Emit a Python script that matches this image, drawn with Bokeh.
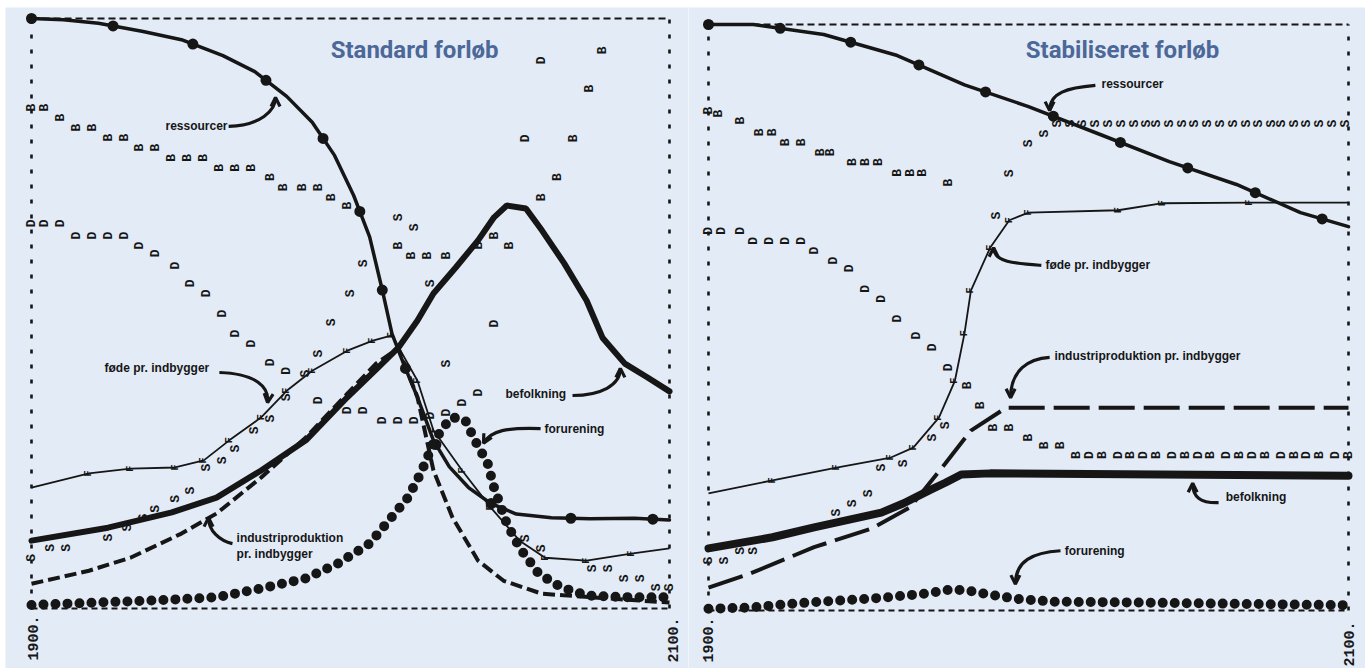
import math
from bokeh.plotting import figure
from bokeh.layouts import row
from bokeh.models import Range1d, Label, Arrow, OpenHead
from bokeh.core.properties import value
from bokeh.embed import file_html
from bokeh.resources import INLINE

# ---------------- data (years / normalised level 0..1) ----------------
YEAR_START, YEAR_END = 1900, 2100
TICK_LABELS = ["1900.", "2100."]

# Standard run (left)
L_RES_YEAR = [1900, 1910, 1921, 1935, 1947, 1960, 1970, 1980, 1988, 1995, 2001, 2006, 2010, 2013, 2017, 2021, 2026, 2031, 2037, 2044, 2052, 2063, 2075, 2089, 2100]
L_RES_VAL = [1.000, 0.998, 0.992, 0.978, 0.964, 0.937, 0.910, 0.868, 0.824, 0.768, 0.700, 0.630, 0.539, 0.466, 0.410, 0.358, 0.285, 0.240, 0.205, 0.178, 0.160, 0.154, 0.152, 0.153, 0.150]

L_POP_YEAR = [1900, 1924, 1944, 1958, 1972, 1986, 1999, 2008, 2015, 2021, 2026, 2033, 2040, 2045, 2049, 2055, 2060, 2067, 2074, 2079, 2086, 2093, 2100]
L_POP_VAL = [0.115, 0.137, 0.163, 0.188, 0.234, 0.285, 0.358, 0.405, 0.442, 0.488, 0.534, 0.578, 0.624, 0.663, 0.683, 0.678, 0.641, 0.585, 0.522, 0.459, 0.415, 0.392, 0.368]

L_FOOD_YEAR = [1900, 1918, 1931, 1945, 1954, 1962, 1972, 1980, 1988, 1999, 2007, 2013, 2021, 2026, 2035, 2044, 2053, 2061, 2074, 2088, 2100]
L_FOOD_VAL = [0.205, 0.229, 0.237, 0.239, 0.251, 0.285, 0.324, 0.369, 0.403, 0.437, 0.454, 0.463, 0.386, 0.302, 0.234, 0.171, 0.115, 0.086, 0.081, 0.093, 0.102]

L_IND_YEAR = [1900, 1918, 1931, 1947, 1958, 1972, 1986, 1999, 2008, 2015, 2021, 2026, 2032, 2040, 2048, 2060, 2081, 2100]
L_IND_VAL = [0.042, 0.064, 0.086, 0.127, 0.161, 0.222, 0.290, 0.364, 0.415, 0.441, 0.358, 0.234, 0.154, 0.081, 0.047, 0.025, 0.017, 0.010]

L_POL_YEAR = [1900, 1920, 1940, 1958, 1972, 1986, 1996, 2006, 2012, 2018, 2022, 2026, 2029, 2032, 2036, 2039, 2043, 2045, 2049, 2053, 2059, 2066, 2074, 2088, 2100]
L_POL_VAL = [0.006, 0.010, 0.014, 0.019, 0.034, 0.051, 0.076, 0.110, 0.149, 0.188, 0.229, 0.280, 0.307, 0.324, 0.319, 0.285, 0.246, 0.205, 0.144, 0.103, 0.059, 0.036, 0.022, 0.019, 0.019]

L_B_YEAR = [1900, 1904, 1909, 1914, 1919, 1924, 1929, 1934, 1939, 1944, 1949, 1954, 1959, 1964, 1969, 1975, 1979, 1985, 1990, 1994, 1999, 2015, 2019, 2024, 2030, 2040, 2045, 2050, 2060, 2065, 2070, 2075, 2079]
L_B_VAL = [0.849, 0.849, 0.832, 0.815, 0.815, 0.798, 0.798, 0.781, 0.781, 0.764, 0.764, 0.764, 0.747, 0.747, 0.747, 0.731, 0.714, 0.714, 0.714, 0.697, 0.683, 0.615, 0.598, 0.598, 0.598, 0.615, 0.632, 0.615, 0.697, 0.731, 0.797, 0.881, 0.946]

L_D_YEAR = [1900, 1904, 1909, 1914, 1919, 1924, 1929, 1934, 1939, 1945, 1950, 1955, 1960, 1964, 1969, 1975, 1980, 1990, 1999, 2004, 2010, 2015, 2020, 2025, 2030, 2035, 2040, 2045, 2055, 2060]
L_D_VAL = [0.653, 0.653, 0.653, 0.632, 0.632, 0.632, 0.632, 0.615, 0.602, 0.581, 0.551, 0.534, 0.500, 0.466, 0.449, 0.417, 0.403, 0.353, 0.336, 0.336, 0.319, 0.319, 0.319, 0.327, 0.332, 0.349, 0.366, 0.483, 0.797, 0.929]

L_S_YEAR = [1900, 1906, 1911, 1924, 1930, 1935, 1939, 1945, 1950, 1955, 1960, 1964, 1970, 1975, 1980, 1986, 1990, 1994, 2000, 2004, 2015, 2020, 2025, 2030, 2055, 2060, 2076, 2081, 2086, 2091, 2096, 2100]
L_S_VAL = [0.086, 0.103, 0.103, 0.120, 0.137, 0.154, 0.169, 0.186, 0.200, 0.239, 0.251, 0.271, 0.302, 0.322, 0.358, 0.398, 0.432, 0.485, 0.534, 0.585, 0.663, 0.646, 0.551, 0.415, 0.119, 0.102, 0.068, 0.068, 0.051, 0.051, 0.036, 0.036]

# Stabilised run (right)
R_RES_YEAR = [1900, 1914, 1936, 1959, 1980, 2000, 2023, 2044, 2065, 2085, 2100]
R_RES_VAL = [1.000, 1.000, 0.983, 0.947, 0.897, 0.860, 0.811, 0.766, 0.727, 0.679, 0.655]

R_FOOD_YEAR = [1900, 1920, 1940, 1957, 1964, 1972, 1977, 1980, 1982, 1988, 1994, 2000, 2028, 2042, 2069, 2100]
R_FOOD_VAL = [0.200, 0.222, 0.244, 0.261, 0.278, 0.329, 0.392, 0.473, 0.546, 0.619, 0.666, 0.679, 0.683, 0.695, 0.696, 0.696]

R_POP_YEAR = [1900, 1920, 1933, 1954, 1961, 1969, 1974, 1979, 1988, 2100]
R_POP_VAL = [0.106, 0.125, 0.142, 0.167, 0.183, 0.205, 0.218, 0.232, 0.234, 0.230]

R_IND_YEAR = [1900, 1913, 1933, 1951, 1963, 1974, 1982, 1993, 2100]
R_IND_VAL = [0.039, 0.063, 0.108, 0.140, 0.176, 0.251, 0.307, 0.346, 0.346]

R_POL_YEAR = [1900, 1913, 1927, 1941, 1955, 1968, 1976, 1981, 1988, 1996, 2008, 2028, 2100]
R_POL_VAL = [0.003, 0.005, 0.012, 0.017, 0.022, 0.029, 0.036, 0.034, 0.027, 0.020, 0.015, 0.014, 0.009]

R_B_YEAR = [1900, 1903, 1910, 1916, 1920, 1924, 1929, 1935, 1938, 1945, 1949, 1953, 1959, 1963, 1967, 1975, 1981, 1985, 1989, 1994, 2000, 2005, 2010, 2015, 2023, 2032, 2040, 2049, 2057, 2066, 2074, 2083, 2091, 2100]
R_B_VAL = [0.853, 0.848, 0.836, 0.816, 0.816, 0.799, 0.799, 0.782, 0.782, 0.765, 0.765, 0.765, 0.747, 0.747, 0.747, 0.730, 0.384, 0.350, 0.312, 0.312, 0.295, 0.282, 0.282, 0.265, 0.265, 0.265, 0.265, 0.265, 0.265, 0.265, 0.265, 0.265, 0.265, 0.265]

R_D_YEAR = [1900, 1904, 1910, 1914, 1919, 1924, 1929, 1933, 1939, 1944, 1949, 1954, 1959, 1965, 1970, 1975, 2019, 2028, 2036, 2045, 2053, 2062, 2070, 2079, 2087, 2096]
R_D_VAL = [0.648, 0.648, 0.648, 0.631, 0.631, 0.631, 0.631, 0.614, 0.597, 0.584, 0.549, 0.532, 0.498, 0.469, 0.449, 0.415, 0.265, 0.265, 0.265, 0.265, 0.265, 0.265, 0.265, 0.265, 0.265, 0.265]

R_S_YEAR = [1900, 1905, 1910, 1914, 1940, 1945, 1950, 1954, 1961, 1970, 1974, 1990, 1994, 2000, 2005, 2009, 2013, 2017, 2021, 2025, 2029, 2033, 2037, 2040, 2044, 2048, 2052, 2056, 2060, 2064, 2068, 2072, 2076, 2079, 2083, 2087, 2091, 2095, 2099]
R_S_VAL = [0.085, 0.085, 0.102, 0.102, 0.167, 0.183, 0.200, 0.244, 0.251, 0.295, 0.316, 0.674, 0.746, 0.797, 0.814, 0.831, 0.831, 0.831, 0.831, 0.831, 0.831, 0.831, 0.831, 0.831, 0.831, 0.831, 0.831, 0.831, 0.831, 0.831, 0.831, 0.831, 0.831, 0.831, 0.831, 0.831, 0.831, 0.831, 0.831]

# annotations: text lines, label anchor, arrow (start, ctrl0, ctrl1, end)
L_NOTES = [
    (["ressourcer"], (1942.0, 0.817), (1961.8, 0.817), (1971.8, 0.819), (1976.5, 0.844), (1976.5, 0.866)),
    (["føde pr. indbygger"], (1922.9, 0.407), (1958.9, 0.400), (1970.5, 0.398), (1974.6, 0.375), (1974.0, 0.349)),
    (["industriproduktion", "pr. indbygger"], (1964.3, 0.120), (1963.0, 0.110), (1958.9, 0.115), (1955.5, 0.132), (1955.5, 0.154)),
    (["befolkning"], (2048.6, 0.364), (2069.6, 0.361), (2078.4, 0.361), (2084.6, 0.378), (2084.6, 0.407)),
    (["forurening"], (2060.8, 0.305), (2059.6, 0.305), (2049.2, 0.307), (2043.9, 0.302), (2041.7, 0.280)),
]
R_NOTES = [
    (["ressourcer"], (2022.8, 0.899), (2020.9, 0.896), (2012.2, 0.892), (2006.6, 0.884), (2006.6, 0.853)),
    (["føde pr. indbygger"], (2005.3, 0.589), (2004.0, 0.589), (1995.9, 0.592), (1989.1, 0.594), (1989.1, 0.619)),
    (["industriproduktion  pr. indbygger"], (2008.1, 0.435), (2006.6, 0.432), (2000.0, 0.430), (1994.4, 0.410), (1994.4, 0.363)),
    (["befolkning"], (2061.6, 0.193), (2059.4, 0.184), (2053.8, 0.183), (2051.3, 0.193), (2051.3, 0.217)),
    (["forurening"], (2011.3, 0.102), (2010.0, 0.102), (2001.3, 0.099), (1995.9, 0.085), (1995.9, 0.045)),
]

BG = "#e3ebf6"
INK = "#161616"
TITLE_C = "#4c6898"
SANS = "Liberation Sans"
TITLE_FONT = "Roboto"
MONO = "Liberation Mono"
H = 668


def panel(width, border_left, xr, yr, title, title_xy, d, notes, tick_off):
    p = figure(width=width, height=H, x_range=Range1d(*xr), y_range=Range1d(*yr),
               output_backend="svg", toolbar_location=None,
               min_border_left=border_left, min_border_right=0,
               min_border_top=7, min_border_bottom=0,
               x_axis_location=None, y_axis_location=None)
    p.grid.visible = False
    p.background_fill_color = BG
    p.border_fill_color = "white"
    p.outline_line_color = None

    # dashed frame
    p.line([YEAR_START, YEAR_END], [1, 1], line_color=INK, line_width=2.2, line_dash="7 4")
    p.line([YEAR_START, YEAR_END], [0, 0], line_color=INK, line_width=1.8, line_dash="6 4")
    for xe in (YEAR_START, YEAR_END):
        p.line([xe, xe], [0, 1], line_color=INK, line_width=2.6, line_dash="4 11")

    # letter series (rotated, typewriter style)
    letter_kw = dict(angle=math.pi / 2, text_font=value(MONO), text_font_style="bold",
                     text_font_size="13px", text_align="center", text_baseline="middle",
                     text_color=INK)
    for key, ch in (("B", "B"), ("D", "D"), ("S", "S")):
        xs, ys = d[key]
        p.text(x=xs, y=ys, text=[ch] * len(xs), **letter_kw)

    # curves
    fx, fy = d["food"]
    p.line(fx, fy, line_color=INK, line_width=1.8)
    p.text(x=fx[1:-1], y=fy[1:-1], text=["F"] * (len(fx) - 2), angle=math.pi / 2,
           text_font=value(MONO), text_font_style="bold", text_font_size="10px",
           text_align="center", text_baseline="middle", text_color=INK)
    ix, iy = d["ind"]
    p.line(ix, iy, line_color=INK, line_width=4, line_dash=d["ind_dash"])
    px_, py_ = d["pop"]
    p.line(px_, py_, line_color=INK, line_width=d["pop_w"], line_cap="round")
    rx, ry = d["res"]
    p.line(rx, ry, line_color=INK, line_width=3.5, line_cap="round")
    p.line(rx, ry, line_color=INK, line_width=11, line_dash=d["res_dash"], line_cap="round")
    ox, oy = d["pol"]
    p.line(ox, oy, line_color=INK, line_width=10, line_dash="0 12", line_cap="round")

    # year labels
    p.text(x=[YEAR_START, YEAR_END], y=[0, 0], text=TICK_LABELS, angle=math.pi / 2,
           x_offset=tick_off[0], y_offset=tick_off[1],
           text_font=value(MONO), text_font_style="bold", text_font_size="15px",
           text_align="right", text_baseline="middle", text_color=INK)

    # title
    p.add_layout(Label(x=title_xy[0], y=title_xy[1], text=title, text_align="center",
                       text_baseline="middle", text_font=TITLE_FONT, text_font_style="bold",
                       text_font_size="24px", text_color=TITLE_C))

    # annotations with curved arrows
    for lines, (lx, ly), s, c0, c1, e in notes:
        for k, t in enumerate(lines):
            p.add_layout(Label(x=lx, y=ly, y_offset=-16 * k, text=t, text_align="left",
                               text_baseline="middle", text_font=SANS,
                               text_font_style="bold", text_font_size="12px",
                               text_color=INK))
        p.bezier(x0=[s[0]], y0=[s[1]], x1=[e[0]], y1=[e[1]], cx0=[c0[0]], cy0=[c0[1]],
                 cx1=[c1[0]], cy1=[c1[1]], line_color=INK, line_width=3.2)
        p.add_layout(Arrow(end=OpenHead(size=9, line_width=3.2, line_color=INK),
                           x_start=c1[0], y_start=c1[1], x_end=e[0], y_end=e[1],
                           line_alpha=0))
    return p


left = panel(688, 5, (1891.85, 2105.96), (-0.10169, 1.01864), "Standard forløb", (2020.1, 0.947),
             dict(res=(L_RES_YEAR, L_RES_VAL), pop=(L_POP_YEAR, L_POP_VAL),
                  food=(L_FOOD_YEAR, L_FOOD_VAL), ind=(L_IND_YEAR, L_IND_VAL),
                  pol=(L_POL_YEAR, L_POL_VAL), B=(L_B_YEAR, L_B_VAL),
                  D=(L_D_YEAR, L_D_VAL), S=(L_S_YEAR, L_S_VAL),
                  ind_dash="12 5", pop_w=6, res_dash="0 82"),
             L_NOTES, ([2, 4], [7, 9]))

right = panel(677, 0, (1893.75, 2105.31), (-0.09898, 1.0290), "Stabiliseret forløb", (2029.4, 0.957),
              dict(res=(R_RES_YEAR, R_RES_VAL), pop=(R_POP_YEAR, R_POP_VAL),
                   food=(R_FOOD_YEAR, R_FOOD_VAL), ind=(R_IND_YEAR, R_IND_VAL),
                   pol=(R_POL_YEAR, R_POL_VAL), B=(R_B_YEAR, R_B_VAL),
                   D=(R_D_YEAR, R_D_VAL), S=(R_S_YEAR, R_S_VAL),
                   ind_dash="36 9", pop_w=8, res_dash="0 72"),
              R_NOTES, ([-1, 0], [7, 11]))

layout = row(left, right, spacing=0)
open("out.html", "w").write(file_html(layout, INLINE))
